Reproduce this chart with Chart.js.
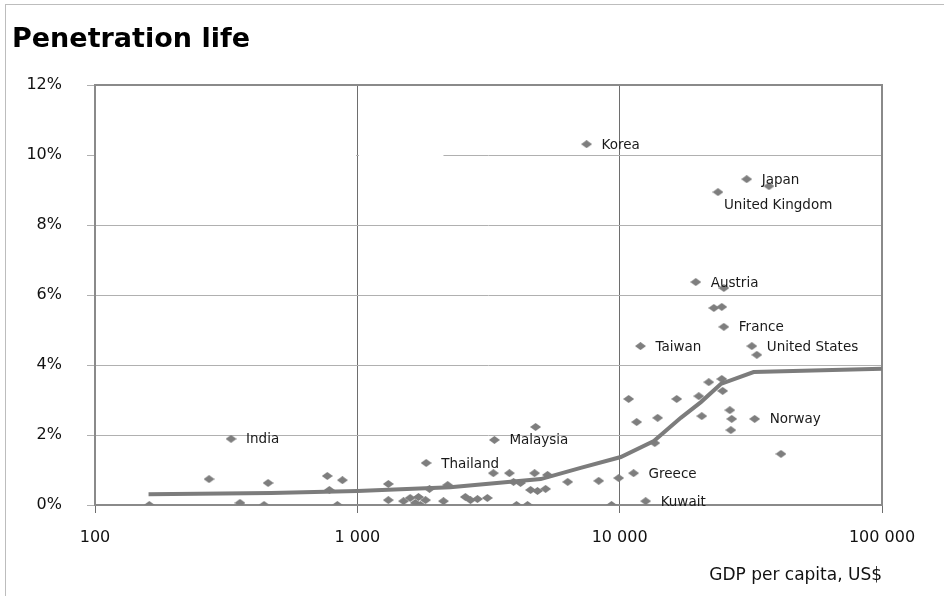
<!DOCTYPE html>
<html>
<head>
<meta charset="utf-8">
<title>Penetration life</title>
<script src="https://cdn.jsdelivr.net/npm/chart.js@4/dist/chart.umd.min.js"></script>
<style>
  html, body { margin: 0; padding: 0; background: #fff; }
  #wrap { position: relative; width: 944px; height: 596px; }
  #frame {
    position: absolute; left: 5px; top: 4px; right: 0; bottom: 0;
    border-left: 1px solid #bdbdbd; border-top: 1px solid #bdbdbd;
    pointer-events: none;
  }
  canvas { position: absolute; left: 0; top: 0; }
</style>
</head>
<body>
<div id="wrap">
  <canvas id="chart" width="944" height="596"></canvas>
  <div id="frame"></div>
</div>
<script>
/* global Chart */

// labelled countries
const countryNames = ["India", "Thailand", "Malaysia", "Korea", "Taiwan", "Greece", "Kuwait",
  "Austria", "United Kingdom", "France", "Japan", "United States", "Norway"];
const countryGdp = [330, 1830, 3330, 7480, 12000, 11300, 12560,
  19500, 23700, 24950, 30500, 31900, 32700];
const countryPen = [1.89, 1.20, 1.86, 10.31, 4.54, 0.91, 0.11,
  6.37, 8.94, 5.09, 9.31, 4.54, 2.46];

// other (unlabelled) countries
const otherGdp = [161, 272, 357, 441, 457, 768, 877, 782, 839, 1313,
  1313, 1500, 1590, 1664, 1710, 1740, 1820, 1884, 2210, 2130,
  2580, 2700, 2870, 3130, 3300, 3800, 3940, 4190, 4740, 4780,
  5310, 4575, 4860, 5220, 4045, 4455, 6340, 8320, 9310, 9910,
  10820, 11610, 13610, 13960, 16500, 20030, 20560, 21860, 24500, 24700,
  26300, 26740, 26530, 41200, 33340, 37070, 24950, 22860, 24500];
const otherPen = [0, 0.74, 0.06, 0, 0.63, 0.83, 0.71, 0.43, 0, 0.60,
  0.14, 0.11, 0.20, 0.06, 0.23, 0, 0.14, 0.46, 0.57, 0.11,
  0.23, 0.14, 0.17, 0.20, 0.91, 0.91, 0.66, 0.63, 0.91, 2.23,
  0.86, 0.43, 0.40, 0.46, 0, 0, 0.66, 0.69, 0, 0.77,
  3.03, 2.37, 1.77, 2.49, 3.03, 3.11, 2.54, 3.51, 3.60, 3.26,
  2.71, 2.46, 2.14, 1.46, 4.29, 9.11, 6.20, 5.63, 5.66];

// fitted curve
const trendGdp = [160, 470, 1000, 2260, 5000, 7100, 10100, 13500, 17100, 20400, 24300, 32400, 100000];
const trendPen = [0.31, 0.34, 0.40, 0.51, 0.74, 1.06, 1.37, 1.83, 2.49, 2.94, 3.46, 3.80, 3.89];

const xTicks = [100, 1000, 10000, 100000];
const yTicks = [0, 2, 4, 6, 8, 10, 12];

const FONT = "'DejaVu Sans', sans-serif";
const GREY = "#7e7e7e";

// the 10% gridline is missing on the left part of the plot in the original
const gridGapTo = 2130;

function fmtThousands(v) {
  return String(Math.round(v)).replace(/\B(?=(\d{3})+(?!\d))/g, " ");
}

function diamond(w, h, color) {
  const c = document.createElement("canvas");
  c.width = w;
  c.height = h;
  const g = c.getContext("2d");
  g.fillStyle = color;
  g.beginPath();
  g.moveTo(w / 2, 0);
  g.lineTo(w, h / 2);
  g.lineTo(w / 2, h);
  g.lineTo(0, h / 2);
  g.closePath();
  g.fill();
  return c;
}

const labelOffsets = {
  "United Kingdom": [6, 13],
};

const frameAndLabels = {
  id: "frameAndLabels",
  beforeDatasetsDraw(chart) {
    const { ctx, chartArea: a, scales } = chart;
    ctx.save();
    // gap in the 10% line (keep the 1 000 vertical line)
    const gy = Math.round(scales.y.getPixelForValue(10)) + 0.5;
    const x1000 = Math.round(scales.x.getPixelForValue(1000));
    ctx.strokeStyle = "#fff";
    ctx.lineWidth = 1;
    ctx.beginPath();
    ctx.moveTo(a.left + 1, gy);
    ctx.lineTo(x1000 - 1, gy);
    ctx.moveTo(x1000 + 2, gy);
    ctx.lineTo(scales.x.getPixelForValue(gridGapTo), gy);
    ctx.stroke();
    // plot frame
    ctx.strokeStyle = "#8a8a8a";
    ctx.lineWidth = 2;
    ctx.strokeRect(a.left, a.top, a.right - a.left, a.bottom - a.top);
    ctx.restore();
  },
  afterDatasetsDraw(chart) {
    const { ctx, scales } = chart;
    ctx.save();
    ctx.font = `13.5px ${FONT}`;
    ctx.fillStyle = "#1a1a1a";
    ctx.textAlign = "left";
    ctx.textBaseline = "middle";
    countryNames.forEach((name, i) => {
      const off = labelOffsets[name] || [15, 1];
      const x = scales.x.getPixelForValue(countryGdp[i]);
      const y = scales.y.getPixelForValue(countryPen[i]);
      ctx.fillText(name, x + off[0], y + off[1]);
    });
    ctx.restore();
  },
};

const points = otherGdp.map((g, i) => ({ x: g, y: otherPen[i] }))
  .concat(countryGdp.map((g, i) => ({ x: g, y: countryPen[i] })));
const trend = trendGdp.map((g, i) => ({ x: g, y: trendPen[i] }));

const ctx = document.getElementById("chart");
const chart = new Chart(ctx, {
  type: "scatter",
  data: {
    datasets: [
      {
        label: "trend",
        data: trend,
        showLine: true,
        borderColor: "#7c7c7c",
        borderWidth: 4,
        pointRadius: 0,
        tension: 0,
        order: 0,
      },
      {
        label: "countries",
        data: points,
        pointStyle: diamond(11, 8, GREY),
        pointRadius: 5,
        order: 1,
      },
    ],
  },
  options: {
    responsive: false,
    animation: false,
    devicePixelRatio: 1,
    layout: { padding: { left: 12, right: 62, top: 0, bottom: 0 } },
    plugins: {
      legend: { display: false },
      tooltip: { enabled: false },
      title: {
        display: true,
        text: "Penetration life",
        align: "start",
        color: "#000",
        font: { family: FONT, size: 27, weight: "bold", lineHeight: 1.2 },
        padding: { top: 24, bottom: 28.6 },
      },
    },
    scales: {
      x: {
        type: "logarithmic",
        min: 100,
        max: 100000,
        afterBuildTicks: (s) => { s.ticks = xTicks.map((v) => ({ value: v })); },
        afterFit: (s) => { s.height = 91; },
        border: { display: false },
        grid: { color: "#6e6e6e", lineWidth: 1, tickLength: 8 },
        ticks: {
          color: "#111",
          padding: 15,
          maxRotation: 0,
          autoSkip: false,
          font: { family: FONT, size: 16 },
          callback: (v) => fmtThousands(v),
        },
        title: {
          display: true,
          text: "GDP per capita, US$",
          align: "end",
          color: "#111",
          font: { family: FONT, size: 17 },
          padding: { top: 0, bottom: 10 },
        },
      },
      y: {
        min: 0,
        max: 12,
        afterBuildTicks: (s) => { s.ticks = yTicks.map((v) => ({ value: v })); },
        afterFit: (s) => { s.width = 83; },
        border: { display: false },
        grid: { color: "#b0b0b0", lineWidth: 1, tickLength: 8 },
        ticks: {
          color: "#111",
          padding: 25,
          font: { family: FONT, size: 16 },
          callback: (v) => `${v}%`,
        },
      },
    },
  },
  plugins: [frameAndLabels],
});
</script>
</body>
</html>
